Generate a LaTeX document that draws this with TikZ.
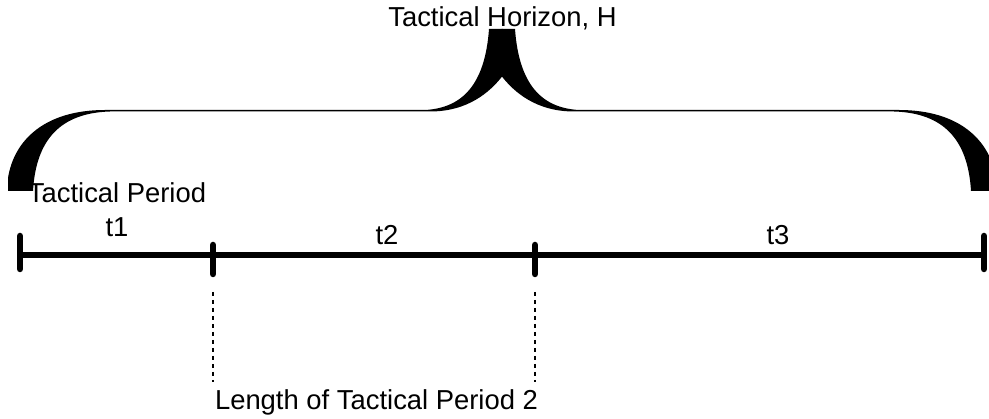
\documentclass[tikz,border=0pt]{standalone}
\usepackage{fontspec}
\setmainfont{Liberation Sans}
\usetikzlibrary{calc}

\tikzset{
  lbl/.style={anchor=base,inner sep=0pt,font=\fontsize{27.4}{34}\selectfont},
  axis/.style={line width=6pt},
  tickmark/.style={line width=6.5pt,line cap=round},
  guide/.style={line width=2pt,dash pattern=on 4pt off 4pt}
}

\begin{document}
\begin{tikzpicture}[x=1pt,y=-1pt]
  \useasboundingbox (0,0) rectangle (989,419);
  \clip (0,0) rectangle (989,419);
  \foreach \s in {1,-1}
    \fill[shift={(502,0)},xscale=\s] (-494,191) -- (-494,178)
      .. controls (-488,140) and (-457,110) .. (-397,110) -- (-77,110)
      .. controls (-40,108) and (-17,85) .. (-13,29) -- (0.5,29) -- (0.5,76)
      .. controls (-12,92) and (-34,111.5) .. (-72,111.5) -- (-392,111.5)
      .. controls (-442,113) and (-466,140) .. (-469,191) -- cycle;
  \coordinate (p0) at (20,255.5);
  \coordinate (p1) at (213,255.5);
  \coordinate (p2) at (535,255.5);
  \coordinate (p3) at (984,255.5);
  \draw[axis] (p0) -- (p3);
  \draw[tickmark] (p0) ++(0,-19.5) -- ++(0,33);
  \draw[tickmark] (p3) ++(0,-19.5) -- ++(0,33);
  \draw[tickmark] (p1) ++(0,-10.5) -- ++(0,29);
  \draw[tickmark] (p2) ++(0,-10.5) -- ++(0,29);
  \draw[guide] (p1) ++(0,36.5) -- ++(0,90);
  \draw[guide] (p2) ++(0,36.5) -- ++(0,90);
  \node[lbl] (horizon) at (502.5,27) {Tactical Horizon, H};
  \node[lbl,align=center] (period) at (117,237) {Tactical Period\\t1};
  \node[lbl] (t2) at (387,245) {t2};
  \node[lbl] (t3) at (778,245) {t3};
  \node[lbl] (len) at (376.5,410) {Length of Tactical Period 2};
\end{tikzpicture}
\end{document}
